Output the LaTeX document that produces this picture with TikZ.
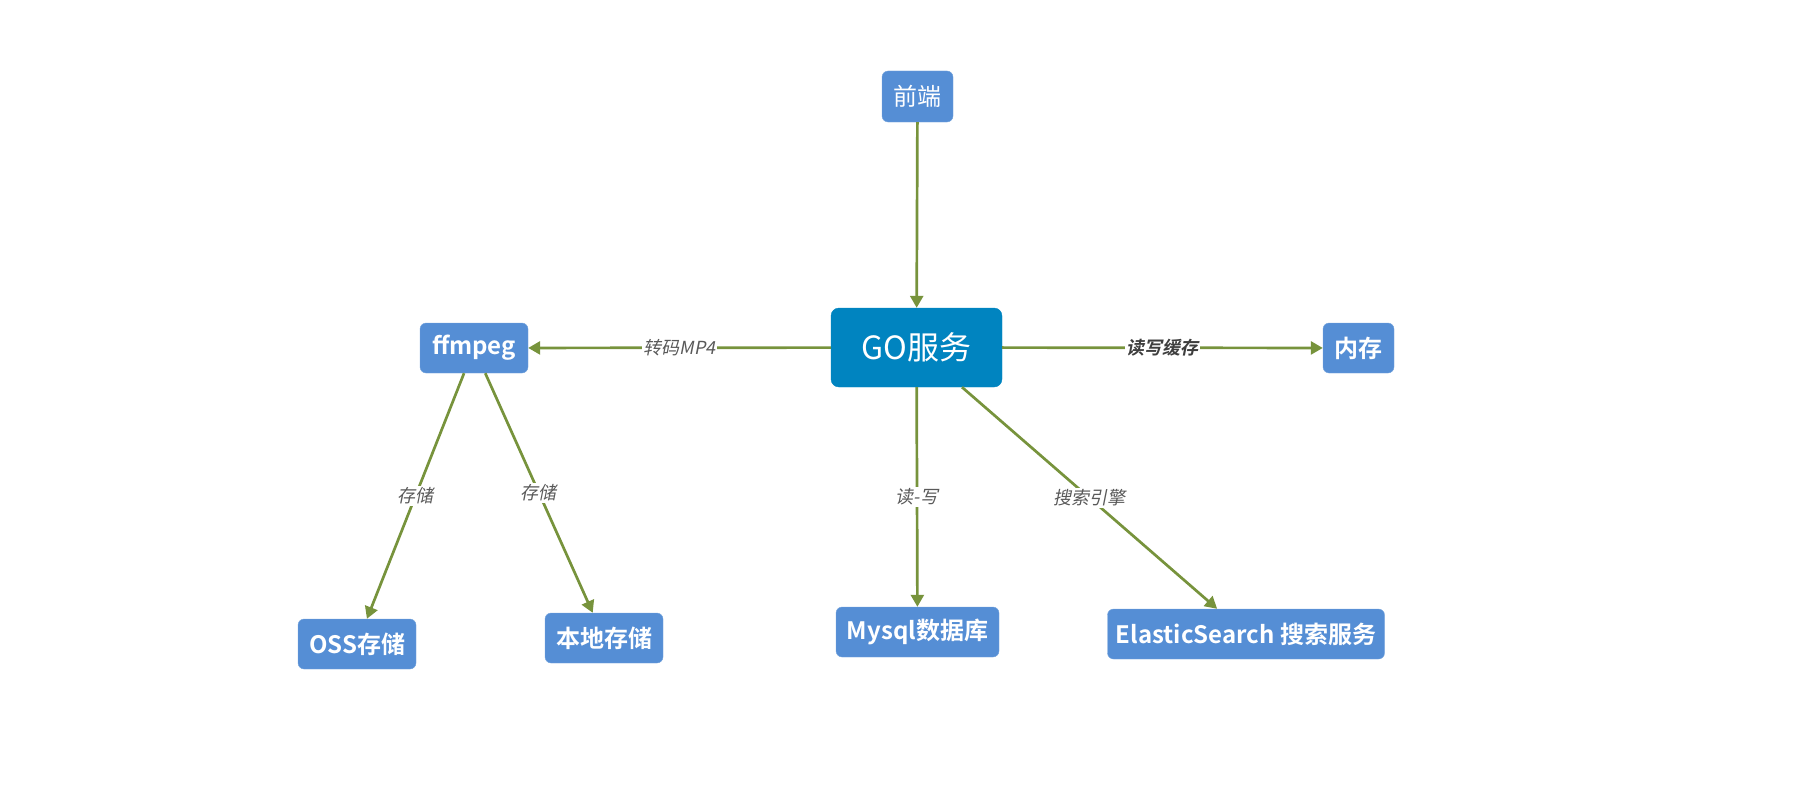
\documentclass[tikz,border=0pt]{standalone}
\usepackage{fontspec}
\setmainfont{Noto Sans CJK SC}[BoldFont={Noto Sans CJK SC Bold}]
\newfontfamily\edgefont{Noto Sans CJK SC}[FakeSlant=0.2, BoldFont={Noto Sans CJK SC Bold}, BoldFeatures={FakeSlant=0.2}]
\usetikzlibrary{arrows.meta}

\definecolor{boxblue}{HTML}{558ED5}
\definecolor{goblue}{HTML}{0084C0}
\definecolor{linegreen}{HTML}{77933C}
\definecolor{labelgray}{HTML}{595959}

\begin{document}
\begin{tikzpicture}[x=1bp, y=-1bp,
  box/.style={fill=boxblue, draw=boxblue!80!white, rounded corners=6bp, text=white, inner sep=0pt, minimum height=50bp, font=\bfseries\fontsize{24bp}{24bp}\selectfont},
  link/.style={draw=linegreen, line width=2.7bp, -{Triangle[length=12bp,width=13bp]}},
  tag/.style={fill=white, inner sep=1.5bp, text=labelgray, font=\edgefont\fontsize{18bp}{18bp}\selectfont}]

  \useasboundingbox (0,0) rectangle (1818,786);

  \node[box, minimum width=71bp, minimum height=51bp, font=\fontsize{24bp}{24bp}\selectfont] (front) at (917.5,96.5) {前端};
  \node[box, fill=goblue, draw=goblue, rounded corners=8bp, minimum width=171bp, minimum height=79bp, font=\fontsize{32bp}{32bp}\selectfont] (go) at (916.5,347.5) {GO服务};

  \node[box, minimum width=108bp] (ffmpeg) at (474,348) {ffmpeg};
  \node[box, minimum width=71bp] (mem) at (1358.5,348) {内存};

  \node[box, minimum width=118bp] (oss) at (357,644) {OSS存储};
  \node[box, minimum width=118bp] (local) at (604,638) {本地存储};
  \node[box, minimum width=163bp] (mysql) at (917.5,632) {Mysql数据库};
  \node[box, minimum width=277bp] (es) at (1246,634) {ElasticSearch 搜索服务};

  \draw[link] (front) -- (go);
  \draw[link] (go) -- (ffmpeg) node[tag, midway] {转码MP4};
  \draw[link] (go) -- (mem) node[tag, midway, font=\edgefont\bfseries\fontsize{18bp}{18bp}\selectfont, text=labelgray!70!black] {读写缓存};
  \draw[link] (go) -- (mysql) node[tag, midway] {读-写};
  \draw[link] (go) -- (es) node[tag, midway] {搜索引擎};

  \draw[link] (ffmpeg) -- (oss) node[tag, midway] {存储};
  \draw[link] (ffmpeg) -- (local) node[tag, midway] {存储};

\end{tikzpicture}
\end{document}
